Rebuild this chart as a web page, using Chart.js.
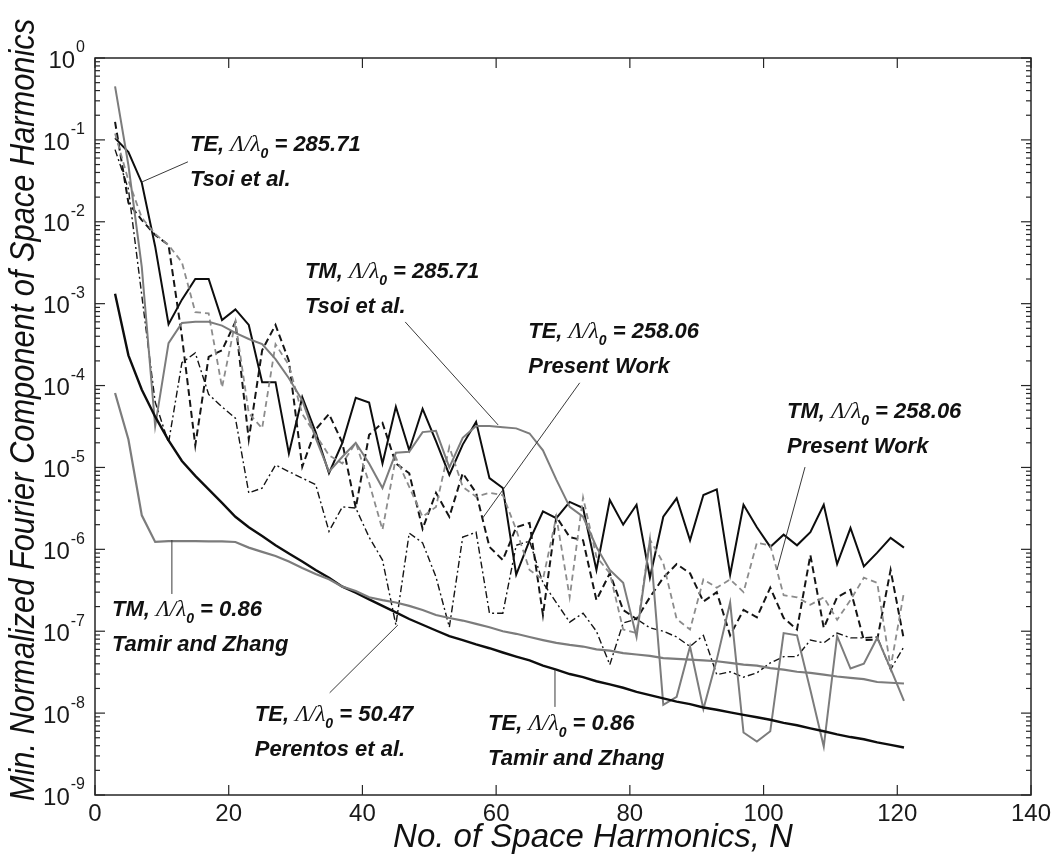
<!DOCTYPE html>
<html><head><meta charset="utf-8">
<script src="https://cdn.jsdelivr.net/npm/chart.js@4.4.0/dist/chart.umd.min.js"></script>
<style>html,body{margin:0;padding:0;background:#fff;}#wrap{width:1057px;height:859px;}</style>
</head><body><div id="wrap"><canvas id="c" width="1057" height="859"></canvas></div>
<script>
// ---------- data ----------
const harmonics = [3,5,7,9,11,13,15,17,19,21,23,25,27,29,31,33,35,37,39,41,43,45,47,49,51,53,55,57,59,61,
  63,65,67,69,71,73,75,77,79,81,83,85,87,89,91,93,95,97,99,101,103,105,107,109,111,113,115,117,119,121];

// TE, Λ/λ0 = 285.71 (Tsoi et al.)
const teTsoi = [1.05e-1,7.1e-2,3.0e-2,5.0e-3,5.6e-4,1.12e-3,2.0e-3,2.0e-3,6.3e-4,8.5e-4,
  5.5e-4,1.10e-4,1.10e-4,1.48e-5,7.2e-5,2.7e-5,8.5e-6,2.0e-5,7.1e-5,6.2e-5,
  1.12e-5,5.5e-5,1.62e-5,5.2e-5,2.1e-5,8.1e-6,1.9e-5,3.6e-5,7.4e-6,5.6e-6,
  4.9e-7,1.29e-6,2.9e-6,2.4e-6,3.8e-6,3.2e-6,5.6e-7,4.0e-6,2.0e-6,3.5e-6,
  4.5e-7,2.5e-6,4.2e-6,1.29e-6,4.6e-6,5.4e-6,4.9e-7,3.5e-6,1.86e-6,1.07e-6,
  1.51e-6,1.12e-6,1.62e-6,3.5e-6,6.6e-7,1.82e-6,6.2e-7,9.1e-7,1.38e-6,1.05e-6];

// TM, Λ/λ0 = 285.71 (Tsoi et al.)
const tmTsoi = [4.5e-1,4.9e-2,2.8e-3,3.2e-5,3.3e-4,5.8e-4,6.0e-4,6.0e-4,5.4e-4,4.4e-4,
  3.7e-4,3.2e-4,2.1e-4,1.23e-4,6.6e-5,2.3e-5,8.9e-6,1.35e-5,2.0e-5,1.12e-5,
  5.6e-6,1.51e-5,1.55e-5,2.7e-5,2.8e-5,1.0e-5,2.3e-5,3.2e-5,3.2e-5,3.1e-5,
  3.0e-5,2.6e-5,1.62e-5,7.1e-6,3.3e-6,2.5e-6,1.07e-6,5.6e-7,3.9e-7,8.5e-8,
  1.29e-6,1.26e-8,1.58e-8,6.5e-8,1.12e-8,4.5e-8,2.24e-7,5.8e-9,4.5e-9,6.0e-9,
  9.5e-8,8.9e-8,1.91e-8,3.9e-9,8.7e-8,3.5e-8,4.0e-8,8.3e-8,3.5e-8,1.41e-8];

// TE, Λ/λ0 = 258.06 (Present Work)
const tePresent = [1.66e-1,1.7e-2,1.05e-2,6.9e-3,5.2e-3,4.0e-4,1.86e-5,2.24e-4,2.7e-4,6.0e-4,
  2.2e-5,2.7e-4,5.5e-4,2.0e-4,1.02e-5,2.9e-5,4.5e-5,2.0e-5,3.2e-6,2.5e-5,
  3.5e-5,1.12e-5,8.5e-6,1.78e-6,4.9e-6,2.5e-6,8.5e-6,4.9e-6,1.07e-6,7.4e-7,
  1.86e-6,2.1e-6,1.58e-7,2.5e-6,1.41e-6,1.29e-6,2.4e-7,5.1e-7,1.82e-7,1.41e-7,
  2.6e-7,4.5e-7,6.6e-7,5.1e-7,2.3e-7,3.0e-7,8.9e-8,1.82e-7,1.48e-7,3.4e-7,
  1.45e-7,1.05e-7,8.5e-7,1.10e-7,2.6e-7,3.2e-7,7.8e-8,7.9e-8,5.6e-7,7.8e-8];

// TM, Λ/λ0 = 258.06 (Present Work)
const tmPresent = [1.2e-1,3.2e-2,1.12e-2,7.1e-3,5.2e-3,3.2e-3,7.9e-4,7.6e-4,9.5e-5,6.0e-4,
  4.6e-5,3.0e-5,3.2e-4,1.78e-4,4.5e-5,2.5e-5,1.41e-5,1.12e-5,2.0e-5,6.5e-6,
  1.74e-6,1.32e-5,5.8e-6,2.5e-6,3.3e-6,1.78e-5,5.8e-6,4.4e-6,4.9e-6,4.6e-6,
  1.74e-6,5.6e-7,4.3e-7,2.5e-6,2.6e-7,4.3e-6,8.1e-7,5.1e-7,1.05e-7,9.5e-8,
  1.32e-6,6.8e-7,1.41e-7,1.05e-7,4.3e-7,3.4e-7,4.3e-7,3.0e-7,1.20e-6,1.12e-6,
  2.75e-7,2.6e-7,2.1e-7,2.6e-7,1.38e-7,2.4e-7,4.5e-7,3.9e-7,3.6e-8,3.0e-7];

// TE, Λ/λ0 = 50.47 (Perentos et al.)
const tePerentos = [7.6e-2,2.5e-2,1.26e-3,6.3e-5,2.0e-5,1.9e-4,2.5e-4,7.8e-5,5.5e-5,4.0e-5,
  4.9e-6,5.6e-6,1.07e-5,8.9e-6,7.4e-6,6.2e-6,1.66e-6,3.3e-6,3.2e-6,1.41e-6,
  7.4e-7,1.20e-7,1.58e-6,1.20e-6,4.6e-7,1.12e-7,1.41e-6,1.62e-6,1.66e-7,1.66e-7,
  1.12e-6,1.26e-6,3.9e-7,2.24e-7,1.29e-7,1.66e-7,1.0e-7,3.9e-8,1.26e-7,1.41e-7,
  1.10e-7,1.0e-7,8.5e-8,6.5e-8,8.9e-8,2.95e-8,3.2e-8,2.75e-8,3.1e-8,4.1e-8,
  4.9e-8,4.9e-8,7.8e-8,7.2e-8,9.5e-8,8.3e-8,8.3e-8,8.5e-8,3.4e-8,6.5e-8];

// TE, Λ/λ0 = 0.86 (Tamir and Zhang)
const teTamir = [1.32e-3,2.34e-4,8.9e-5,4.17e-5,2.14e-5,1.20e-5,7.9e-6,5.4e-6,3.7e-6,2.5e-6,
  1.86e-6,1.45e-6,1.12e-6,8.9e-7,7.1e-7,5.6e-7,4.5e-7,3.5e-7,2.95e-7,2.45e-7,
  2.04e-7,1.70e-7,1.41e-7,1.20e-7,1.02e-7,8.7e-8,7.8e-8,6.9e-8,6.2e-8,5.5e-8,
  4.9e-8,4.4e-8,3.8e-8,3.4e-8,3.0e-8,2.75e-8,2.45e-8,2.24e-8,2.04e-8,1.82e-8,
  1.66e-8,1.51e-8,1.38e-8,1.29e-8,1.17e-8,1.10e-8,1.02e-8,9.5e-9,8.9e-9,8.3e-9,
  7.6e-9,7.1e-9,6.5e-9,6.0e-9,5.5e-9,5.1e-9,4.8e-9,4.4e-9,4.1e-9,3.8e-9];

// TM, Λ/λ0 = 0.86 (Tamir and Zhang)
const tmTamir = [8.1e-5,2.19e-5,2.6e-6,1.23e-6,1.26e-6,1.26e-6,1.26e-6,1.25e-6,1.25e-6,1.23e-6,
  1.05e-6,9.3e-7,8.3e-7,7.1e-7,5.9e-7,5.0e-7,4.3e-7,3.5e-7,3.1e-7,2.6e-7,
  2.4e-7,2.24e-7,2.04e-7,1.82e-7,1.58e-7,1.45e-7,1.35e-7,1.23e-7,1.12e-7,1.0e-7,
  9.3e-8,8.5e-8,7.8e-8,7.2e-8,6.8e-8,6.5e-8,6.0e-8,5.8e-8,5.4e-8,5.2e-8,
  5.0e-8,4.7e-8,4.6e-8,4.5e-8,4.4e-8,4.3e-8,4.1e-8,3.9e-8,3.8e-8,3.55e-8,
  3.4e-8,3.2e-8,3.1e-8,2.95e-8,2.8e-8,2.7e-8,2.6e-8,2.4e-8,2.35e-8,2.3e-8];

// tick labels
const xTickValues = [0,20,40,60,80,100,120,140];
const xTickLabels = ['0','20','40','60','80','100','120','140'];
const yDecadeValues = [1,1e-1,1e-2,1e-3,1e-4,1e-5,1e-6,1e-7,1e-8,1e-9];
const yDecadeExponents = ['0','-1','-2','-3','-4','-5','-6','-7','-8','-9'];

const xTitle = 'No. of Space Harmonics, N';
const yTitle = 'Min. Normalized Fourier Component of Space Harmonics';

// annotation callouts (anchored in data coordinates)
const notes = [
  {mode:'TE', ratio:'285.71', source:'Tsoi et al.',     at:[14.2, 9.2e-2],  leader:[[13.9,5.4e-2],[7.0,3.06e-2]]},
  {mode:'TM', ratio:'285.71', source:'Tsoi et al.',     at:[31.4, 2.58e-3], leader:[[46.4,5.98e-4],[60.3,3.3e-5]]},
  {mode:'TE', ratio:'258.06', source:'Present Work',    at:[64.8, 4.77e-4], leader:[[72.5,1.08e-4],[58.0,2.42e-6]]},
  {mode:'TM', ratio:'258.06', source:'Present Work',    at:[103.5, 5.04e-5],leader:[[106.2,1.01e-5],[102.0,5.6e-7]]},
  {mode:'TM', ratio:'0.86',   source:'Tamir and Zhang', at:[2.54, 1.92e-7], leader:[[11.5,1.30e-6],[11.5,2.85e-7]]},
  {mode:'TE', ratio:'50.47',  source:'Perentos et al.', at:[23.9, 1.0e-8],  leader:[[35.1,1.77e-8],[45.3,1.19e-7]]},
  {mode:'TE', ratio:'0.86',   source:'Tamir and Zhang', at:[58.8, 7.8e-9],  leader:[[68.8,3.37e-8],[68.8,1.19e-8]]}
];

// ---------- chart ----------
const SANS = '"Liberation Sans", Arial, Helvetica, sans-serif';
const SERIF = '"Liberation Serif", "Times New Roman", serif';
const pts = arr => harmonics.map((n, i) => ({x: n, y: arr[i]}));

function drawRich(ctx, x, y, parts) {
  let cx = x;
  parts.forEach(p => {
    ctx.font = p.f;
    ctx.fillText(p.t, cx, y + (p.dy || 0));
    cx += ctx.measureText(p.t).width;
  });
}

const framePlugin = {
  id: 'framePlugin',
  beforeDraw(chart) {
    const c = chart.ctx;
    c.save(); c.fillStyle = '#fff'; c.fillRect(0, 0, chart.width, chart.height); c.restore();
  },
  afterDraw(chart) {
    const ctx = chart.ctx, a = chart.chartArea, xs = chart.scales.x, ys = chart.scales.y;
    ctx.save();
    const seg = (x1, y1, x2, y2) => { ctx.beginPath(); ctx.moveTo(x1, y1); ctx.lineTo(x2, y2); ctx.stroke(); };
    // box
    ctx.strokeStyle = '#262626'; ctx.lineWidth = 1.5;
    ctx.strokeRect(a.left, a.top, a.right - a.left, a.bottom - a.top);
    // x ticks (inward, top and bottom)
    ctx.lineWidth = 1.2;
    xTickValues.forEach(v => {
      const px = xs.getPixelForValue(v);
      seg(px, a.bottom, px, a.bottom - 10);
      seg(px, a.top, px, a.top + 10);
    });
    // y ticks (decades + minor)
    yDecadeValues.forEach((d, i) => {
      const py = ys.getPixelForValue(d);
      seg(a.left, py, a.left + 10, py);
      seg(a.right, py, a.right - 10, py);
      if (i < yDecadeValues.length - 1) {
        for (let m = 2; m <= 9; m++) {
          const pm = ys.getPixelForValue(d * m / 10);
          seg(a.left, pm, a.left + 5, pm);
          seg(a.right, pm, a.right - 5, pm);
        }
      }
    });
    // x tick labels
    ctx.fillStyle = '#1a1a1a';
    ctx.font = '24px ' + SANS;
    ctx.textAlign = 'center'; ctx.textBaseline = 'middle';
    xTickValues.forEach((v, i) => ctx.fillText(xTickLabels[i], xs.getPixelForValue(v), a.bottom + 19));
    // y tick labels 10^k
    ctx.textAlign = 'left';
    yDecadeValues.forEach((d, i) => {
      const py = ys.getPixelForValue(d);
      ctx.font = '24px ' + SANS;
      const w1 = ctx.measureText('10').width;
      ctx.font = '16px ' + SANS;
      const w2 = ctx.measureText(yDecadeExponents[i]).width;
      const right = a.left - 10;
      const x0 = right - w1 - w2 - 1;
      ctx.font = '24px ' + SANS;
      ctx.fillText('10', x0, py + 3);
      ctx.font = '16px ' + SANS;
      ctx.fillText(yDecadeExponents[i], x0 + w1 + 1, py - 10);
    });
    // axis titles
    ctx.fillStyle = '#111';
    ctx.textAlign = 'center'; ctx.textBaseline = 'middle';
    ctx.font = 'italic 33px ' + SANS;
    ctx.fillText(xTitle, (a.left + a.right) / 2 + 30, 838);
    ctx.save();
    ctx.translate(24, 410);
    ctx.rotate(-Math.PI / 2);
    ctx.scale(0.88, 1);
    ctx.font = 'italic 35px ' + SANS;
    ctx.fillText(yTitle, 0, 0);
    ctx.restore();
    // callouts
    ctx.textAlign = 'left'; ctx.textBaseline = 'alphabetic';
    notes.forEach(n => {
      ctx.strokeStyle = '#3a3a3a'; ctx.lineWidth = 1;
      const p1 = n.leader[0], p2 = n.leader[1];
      seg(xs.getPixelForValue(p1[0]), ys.getPixelForValue(p1[1]), xs.getPixelForValue(p2[0]), ys.getPixelForValue(p2[1]));
      const tx = xs.getPixelForValue(n.at[0]), ty = ys.getPixelForValue(n.at[1]);
      ctx.fillStyle = '#111';
      drawRich(ctx, tx, ty + 8, [
        {t: n.mode + ', ', f: 'italic bold 22px ' + SANS},
        {t: 'Λ/λ', f: 'italic 23px ' + SERIF},
        {t: '0', f: 'italic bold 14px ' + SANS, dy: 7},
        {t: ' = ' + n.ratio, f: 'italic bold 22px ' + SANS}
      ]);
      drawRich(ctx, tx, ty + 43, [{t: n.source, f: 'italic bold 22px ' + SANS}]);
    });
    ctx.restore();
  }
};

const base = {pointRadius: 0, pointHoverRadius: 0, tension: 0, fill: false, borderJoinStyle: 'miter'};
new Chart(document.getElementById('c'), {
  type: 'line',
  data: {
    datasets: [
      Object.assign({label: 'TM 0.86 Tamir and Zhang', data: pts(tmTamir), borderColor: '#7c7c7c', borderWidth: 2.2}, base),
      Object.assign({label: 'TE 0.86 Tamir and Zhang', data: pts(teTamir), borderColor: '#0d0d0d', borderWidth: 2.4}, base),
      Object.assign({label: 'TM 285.71 Tsoi et al.', data: pts(tmTsoi), borderColor: '#7c7c7c', borderWidth: 2}, base),
      Object.assign({label: 'TM 258.06 Present Work', data: pts(tmPresent), borderColor: '#8c8c8c', borderWidth: 1.8, borderDash: [6, 4]}, base),
      Object.assign({label: 'TE 50.47 Perentos et al.', data: pts(tePerentos), borderColor: '#151515', borderWidth: 1.4, borderDash: [7, 3, 2, 3]}, base),
      Object.assign({label: 'TE 258.06 Present Work', data: pts(tePresent), borderColor: '#151515', borderWidth: 2, borderDash: [7, 4]}, base),
      Object.assign({label: 'TE 285.71 Tsoi et al.', data: pts(teTsoi), borderColor: '#0d0d0d', borderWidth: 2}, base)
    ]
  },
  options: {
    responsive: false,
    animation: false,
    devicePixelRatio: 1,
    layout: {padding: {left: 95, right: 26, top: 58, bottom: 64}},
    plugins: {legend: {display: false}, tooltip: {enabled: false}},
    scales: {
      x: {type: 'linear', min: 0, max: 140, display: false},
      y: {type: 'logarithmic', min: 1e-9, max: 1, display: false}
    }
  },
  plugins: [framePlugin]
});
</script>
</body></html>
